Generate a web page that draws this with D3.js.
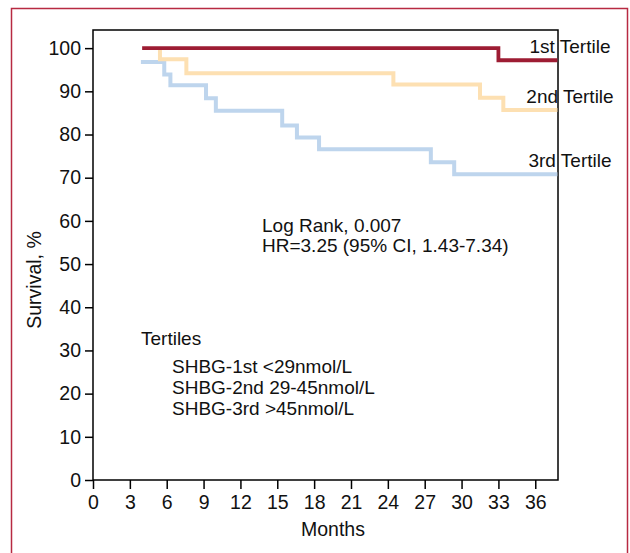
<!DOCTYPE html>
<html>
<head>
<meta charset="utf-8">
<script src="https://cdn.jsdelivr.net/npm/d3@7"></script>
<style>
  body { margin: 0; background: #fff; }
  svg text { font-family: "Liberation Sans Narrow", "Arial Narrow", "Liberation Sans", sans-serif; fill: #111; }
</style>
</head>
<body>
<svg id="chart"></svg>
<script>
// Kaplan-Meier step points (months, survival %)
const tertile1Months = [4.0, 33.0, 37.8];
const tertile1Surv   = [100, 97.2, 97.2];
const tertile2Months = [5.45, 5.45, 7.6, 24.45, 31.5, 33.4, 37.8];
const tertile2Surv   = [100, 97.4, 94.2, 91.6, 88.5, 85.7, 85.7];
const tertile3Months = [3.9, 5.8, 6.3, 9.2, 10.0, 15.4, 16.6, 18.4, 27.5, 29.4, 37.8];
const tertile3Surv   = [96.8, 93.9, 91.4, 88.4, 85.5, 82.1, 79.3, 76.6, 73.6, 70.8, 70.8];

const seriesNames  = ['3rd Tertile', '2nd Tertile', '1st Tertile'];
const xTicks = [0, 3, 6, 9, 12, 15, 18, 21, 24, 27, 30, 33, 36];
const yTicks = [0, 10, 20, 30, 40, 50, 60, 70, 80, 90, 100];

const width = 630, height = 553;
const margin = { top: 30, right: 72, bottom: 73, left: 93 };

const svg = d3.select('#chart').attr('width', width).attr('height', height);

// outer frame
svg.append('rect')
    .attr('x', 11.5).attr('y', 8.5)
    .attr('width', 616).attr('height', 560)
    .attr('fill', 'none').attr('stroke', '#b72a42').attr('stroke-width', 1.5);

const x = d3.scaleLinear().domain([0, 37.85]).range([margin.left, width - margin.right]);
const y = d3.scaleLinear().domain([0, 104.2]).range([height - margin.bottom, margin.top]);

// plot box
svg.append('rect')
    .attr('x', x(0)).attr('y', y(104.2))
    .attr('width', x(37.85) - x(0)).attr('height', y(0) - y(104.2))
    .attr('fill', 'none').attr('stroke', '#000').attr('stroke-width', 1.5);

// axes
const xAxis = svg.append('g')
    .attr('transform', `translate(0,${y(0)})`)
    .call(d3.axisBottom(x).tickValues(xTicks).tickSize(9).tickPadding(6));
const yAxis = svg.append('g')
    .attr('transform', `translate(${x(0)},0)`)
    .call(d3.axisLeft(y).tickValues(yTicks).tickSize(8).tickPadding(4));

[xAxis, yAxis].forEach(a => {
    a.select('.domain').remove();
    a.selectAll('line').attr('stroke', '#000').attr('stroke-width', 1.5);
    a.selectAll('text').style('font-size', '19.5px').attr('fill', '#111');
});

// curves
const line = d3.line().x(d => x(d[0])).y(d => y(d[1])).curve(d3.curveStepAfter);
const curves = [
    { m: tertile3Months, s: tertile3Surv, color: '#bed5ed', w: 4 },
    { m: tertile2Months, s: tertile2Surv, color: '#fde0b2', w: 4 },
    { m: tertile1Months, s: tertile1Surv, color: '#9d1c33', w: 3.8 }
];
curves.forEach(c => {
    svg.append('path')
        .datum(c.m.map((v, i) => [v, c.s[i]]))
        .attr('d', line)
        .attr('fill', 'none')
        .attr('stroke', c.color)
        .attr('stroke-width', c.w);
});

// series labels at the right edge
const labelY = [167, 103, 53];
seriesNames.forEach((n, i) => {
    svg.append('text')
        .attr('x', 570).attr('y', labelY[i])
        .attr('text-anchor', 'middle')
        .style('font-size', '19px')
        .text(n);
});

// annotations
const notes = [
    { t: 'Log Rank, 0.007', x: 262, y: 232 },
    { t: 'HR=3.25 (95% CI, 1.43-7.34)', x: 262, y: 252 },
    { t: 'Tertiles', x: 141, y: 345 },
    { t: 'SHBG-1st <29nmol/L', x: 172, y: 373 },
    { t: 'SHBG-2nd 29-45nmol/L', x: 172, y: 394 },
    { t: 'SHBG-3rd >45nmol/L', x: 172, y: 415 }
];
notes.forEach(n => {
    svg.append('text').attr('x', n.x).attr('y', n.y)
        .style('font-size', '19px').text(n.t);
});

// axis titles
svg.append('text')
    .attr('x', 333).attr('y', 536)
    .attr('text-anchor', 'middle')
    .style('font-size', '19.5px')
    .text('Months');
svg.append('text')
    .attr('transform', 'translate(41,280) rotate(-90)')
    .attr('text-anchor', 'middle')
    .style('font-size', '19.5px')
    .text('Survival, %');
</script>
</body>
</html>
